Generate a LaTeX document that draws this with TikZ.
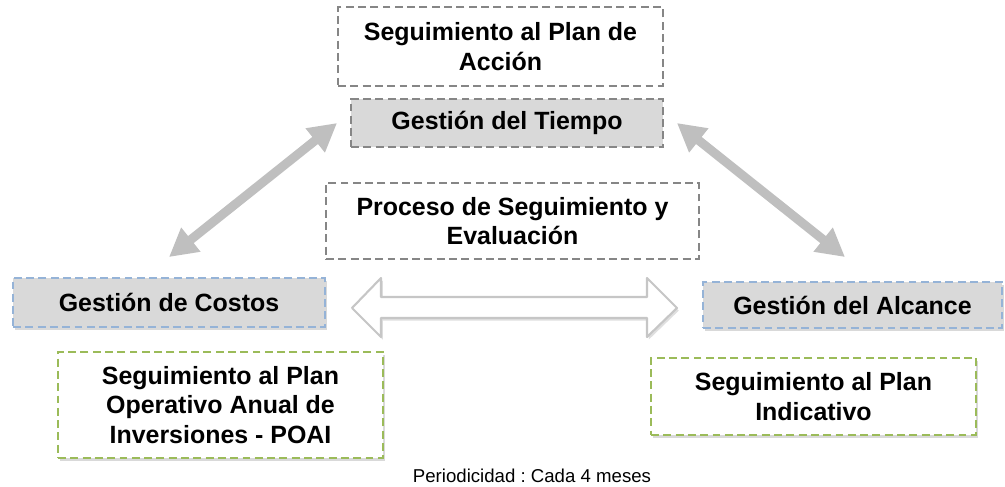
\documentclass[tikz,border=0pt]{standalone}
\usepackage{fontspec}
\setmainfont{Liberation Sans}
\usepackage{tikz}
\usetikzlibrary{arrows.meta, shadows}

\definecolor{bordeazul}{RGB}{149,179,215}
\definecolor{bordeverde}{RGB}{155,187,89}

\begin{document}
\begin{tikzpicture}[
    x=0.02cm, y=-0.02cm,
    basebox/.style={rectangle, line width=1.1pt, dash pattern=on 4.5pt off 2.5pt, text centered, align=center, inner sep=2pt, font=\fontsize{14.2}{16.8}\selectfont\bfseries},
    graybox/.style={basebox, draw=gray!95},
    gestion/.style={basebox, draw=bordeazul, fill=gray!30, drop shadow={shadow xshift=1pt, shadow yshift=-1.5pt, opacity=0.3}},
    seguim/.style={basebox, draw=bordeverde, fill=white, drop shadow={shadow xshift=1pt, shadow yshift=-1.5pt, opacity=0.3}},
    dblarrow/.style={{Triangle[length=0.56cm, width=0.58cm]}-{Triangle[length=0.56cm, width=0.58cm]}, line width=0.18cm, gray!50},
    blockarrow/.style={draw=gray!45, line width=1.2pt, fill=white, line join=round, drop shadow={shadow xshift=1pt, shadow yshift=-1.5pt, opacity=0.25}}]
    \useasboundingbox (0,0) rectangle (1005,487);
    % Nodes
    \node[graybox, minimum width=6.5cm, minimum height=1.58cm] (accion) at (500.5,46.5) {Seguimiento al Plan de\\Acción};
    \node[graybox, fill=gray!30, minimum width=6.24cm, minimum height=0.96cm] (tiempo) at (507,123) {Gestión del Tiempo};
    \node[graybox, minimum width=7.46cm, minimum height=1.52cm] (proceso) at (512.5,221) {Proceso de Seguimiento y\\Evaluación};
    \node[gestion, minimum width=6.24cm, minimum height=0.98cm] (costos) at (169,302.5) {Gestión de Costos};
    \node[gestion, minimum width=5.98cm, minimum height=0.92cm] (alcance) at (852.5,305) {Gestión del Alcance};
    \node[seguim, minimum width=6.5cm, minimum height=2.12cm] (poai) at (220.5,405) {Seguimiento al Plan\\Operativo Anual de\\Inversiones - POAI};
    \node[seguim, minimum width=6.5cm, minimum height=1.54cm] (indicativo) at (813.5,396.5) {Seguimiento al Plan\\Indicativo};
    \node[font=\fontsize{10.6}{13}\selectfont\frenchspacing] (periodo) at (532,476) {Periodicidad : Cada 4 meses};

    % Arrows
    \draw[dblarrow] ([xshift=-0.26cm]tiempo.west) -- ([yshift=0.4cm]costos.north);
    \draw[dblarrow] ([xshift=0.26cm]tiempo.east) -- ([xshift=-0.15cm, yshift=0.48cm]alcance.north);
    \draw[blockarrow] (352,308) -- (381,278) -- (381,297) -- (647,297) -- (647,278) -- (677,308)
        -- (647,337) -- (647,318) -- (381,318) -- (381,337) -- cycle;
\end{tikzpicture}
\end{document}
